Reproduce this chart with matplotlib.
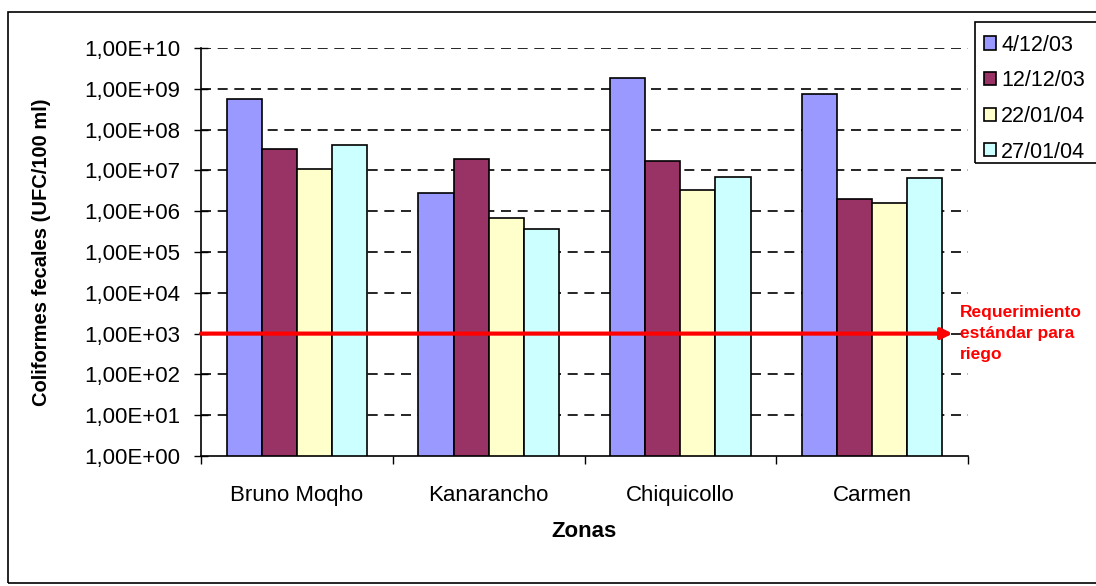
import numpy as np
import matplotlib
matplotlib.use("Agg")
import matplotlib.pyplot as plt
from matplotlib.patches import Rectangle

plt.rcParams['font.family'] = ['Liberation Sans', 'DejaVu Sans']

# ---------------------------------------------------------------
#  Datos : coliformes fecales por zona y fecha de muestreo
# ---------------------------------------------------------------
zonas = ["Bruno Moqho", "Kanarancho", "Chiquicollo", "Carmen"]
fechas = ["4/12/03", "12/12/03", "22/01/04", "27/01/04"]

cf_041203 = [5.6e8, 2.8e6, 1.8e9, 7.3e8]
cf_121203 = [3.3e7, 1.9e7, 1.7e7, 2.0e6]
cf_220104 = [1.1e7, 6.8e5, 3.3e6, 1.55e6]
cf_270104 = [4.2e7, 3.7e5, 6.9e6, 6.4e6]

limite_riego = 1e3
yticks = [10.0 ** k for k in range(0, 11)]
ytick_labels = ["1,00E+%02d" % k for k in range(0, 11)]

colores = ["#9999FF", "#993366", "#FFFFCC", "#CCFFFF"]

# ---------------------------------------------------------------
fig = plt.figure(figsize=(10.96, 5.86), dpi=100)
ax = fig.add_axes([201 / 1096, 1 - 456 / 586, 767 / 1096, 408 / 586])

# cadre exterieur du graphique + cadre de la legende
fig.patches.append(Rectangle((8 / 1096, 1 - 583 / 586), 1.2, 571 / 586,
                             transform=fig.transFigure, fill=False,
                             edgecolor="black", linewidth=1.2))
fig.patches.append(Rectangle((975 / 1096, 1 - 163 / 586), 0.2, 141 / 586,
                             transform=fig.transFigure, fill=False,
                             edgecolor="black", linewidth=1.2))

x = np.arange(len(zonas))
w = 0.183
series = [cf_041203, cf_121203, cf_220104, cf_270104]
for i, (serie, col, lab) in enumerate(zip(series, colores, fechas)):
    ax.bar(x + (i - 1.5) * w, serie, width=w, bottom=1, color=col,
           edgecolor="black", linewidth=1.2, label=lab, zorder=3)

ax.set_yscale("log")
ax.set_ylim(1, 1e10)
ax.set_xlim(-0.5, len(zonas) - 0.5)
ax.set_yticks(yticks)
ax.set_yticklabels(ytick_labels)
ax.yaxis.set_minor_locator(matplotlib.ticker.NullLocator())

# lignes de grille en tirets
for yv in yticks[1:]:
    ax.axhline(yv, color="black", linestyle=(0, (6, 4)), linewidth=1.2, zorder=1)

ax.set_xticks(x)
ax.set_xticklabels(zonas, fontsize=16)
ax.set_xticks(np.arange(-0.5, len(zonas)), minor=True)
ax.tick_params(axis="x", which="major", length=0, pad=21)
ax.tick_params(axis="x", which="minor", length=6, direction="out", width=1)
ax.tick_params(axis="y", which="major", length=10, direction="inout", width=1,
               labelsize=16, pad=10)

for s in ["top", "right"]:
    ax.spines[s].set_visible(False)
ax.spines["left"].set_linewidth(1.2)
ax.spines["bottom"].set_linewidth(1.2)

ax.set_xlabel("Zonas", fontsize=16, fontweight="bold", labelpad=11)
ax.set_ylabel("Coliformes fecales (UFC/100 ml)", fontsize=14.5,
              fontweight="bold", labelpad=24)

# linea de requerimiento estandar
ax.annotate("", xy=(3.42, limite_riego), xytext=(-0.5, limite_riego),
            arrowprops=dict(arrowstyle="-|>", color="#FF0000", lw=3,
                            mutation_scale=16, shrinkA=0, shrinkB=0),
            annotation_clip=False, zorder=4)
ax.text(3.46, limite_riego, "Requerimiento\nestándar para\nriego",
        color="#FF0000", fontsize=12.5, fontweight="bold", va="center",
        ha="left", linespacing=1.5)

fig.legend(loc="upper left", bbox_to_anchor=(975 / 1096, 1 - 26 / 586),
           fontsize=15.5, frameon=False,
           handlelength=0.56, handleheight=0.56, handletextpad=0.25,
           labelspacing=0.68, borderpad=0.4, borderaxespad=0)

fig.savefig("out.png", dpi=100)
